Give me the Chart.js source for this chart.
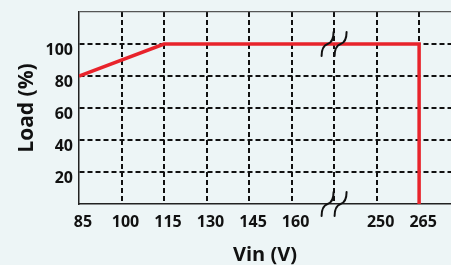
<!DOCTYPE html>
<html>
<head>
<meta charset="utf-8">
<script src="https://cdn.jsdelivr.net/npm/chart.js@4/dist/chart.umd.min.js"></script>
<style>
  body { margin: 0; background: #edf5f6; }
  #wrap { width: 451px; height: 265px; }
</style>
</head>
<body>
<div id="wrap"><canvas id="load_chart" width="451" height="265"></canvas></div>
<script>
// axe X : positions régulières, la coupure d'axe est le null
const vin_ticks = [85, 100, 115, 130, 145, 160, null, 250, 265];
const load_ticks = [0, 20, 40, 60, 80, 100, 120];
// courbe de déclassement
const vin_values = [85, 115, 265, 265];
const load_values = [80, 100, 100, 0];
// niveaux où l'on dessine les marques de coupure
const break_loads = [100, 0];

const break_pos = vin_ticks.indexOf(null);
const text_font = "'Open Sans', 'DejaVu Sans', sans-serif";

const data_points = [];
for (j = 0; j < vin_values.length; j++) {
  data_points.push({x: vin_ticks.indexOf(vin_values[j]), y: load_values[j]});
}

// marques de coupure "//" dessinées sur l'axe
const axis_break = {
  id: 'axis_break',
  afterDatasetsDraw(chart) {
    const ctx = chart.ctx;
    const cx0 = chart.scales.x.getPixelForValue(break_pos);
    ctx.save();
    ctx.strokeStyle = '#111';
    ctx.lineWidth = 2;
    ctx.lineCap = 'round';
    for (j = 0; j < break_loads.length; j++) {
      const cy = chart.scales.y.getPixelForValue(break_loads[j]);
      [-6.5, 6.5].forEach(function(dx) {
        const cx = cx0 + dx;
        ctx.beginPath();
        ctx.moveTo(cx - 6, cy + 12);
        ctx.bezierCurveTo(cx - 6, cy + 4, cx - 3, cy + 1, cx, cy);
        ctx.bezierCurveTo(cx + 3, cy - 1, cx + 6, cy - 4, cx + 6, cy - 12);
        ctx.stroke();
      });
    }
    ctx.restore();
  }
};

// pas de marge automatique pour les libellés aux extrémités
function no_label_padding(scale) {
  scale.paddingTop = 0;
  scale.paddingBottom = 0;
  scale.paddingLeft = 0;
  scale.paddingRight = 0;
}

const config_load_chart = {
  type: 'line',
  data: {
    datasets: [{
      label: 'Load',
      data: data_points,
      borderColor: '#e8232b',
      borderWidth: 3.5,
      borderJoinStyle: 'miter',
      pointRadius: 0,
      tension: 0,
    }]
  },
  options: {
    responsive: false,
    animation: false,
    devicePixelRatio: 1,
    layout: {padding: {top: 12, right: 0, left: 0, bottom: 0}},
    plugins: {legend: {display: false}, tooltip: {enabled: false}},
    scales: {
      x: {
        type: 'linear',
        min: 0,
        max: 8.75,
        afterBuildTicks: function(scale) {
          scale.ticks = vin_ticks.map(function(v, i) { return {value: i}; });
        },
        afterFit: function(scale) { scale.height = 61; no_label_padding(scale); },
        ticks: {
          callback: function(value) {
            const v = vin_ticks[value];
            return v == null ? '' : String(v);
          },
          font: {family: text_font, size: 16, weight: 'bold'},
          color: '#111',
          padding: 9,
          labelOffset: 4,
          maxRotation: 0,
          autoSkip: false,
        },
        grid: {
          drawTicks: false,
          lineWidth: 2,
          color: function(c) { return c.tick && c.tick.value === 0 ? 'rgba(0,0,0,0)' : '#111'; },
        },
        border: {display: true, color: '#222', width: 1.5, dash: [5, 3]},
        title: {
          display: true,
          text: 'Vin (V)',
          font: {family: text_font, size: 20, weight: 'bold', lineHeight: 1},
          color: '#111',
          padding: {top: 0, bottom: 0},
        }
      },
      y: {
        type: 'linear',
        min: 0,
        max: 120,
        afterBuildTicks: function(scale) {
          scale.ticks = load_ticks.map(function(v) { return {value: v}; });
        },
        afterFit: function(scale) { scale.width = 79; no_label_padding(scale); },
        ticks: {
          callback: function(value) {
            return (value === 0 || value === 120) ? '' : String(value);
          },
          font: {family: text_font, size: 16, weight: 'bold'},
          color: '#111',
          padding: 6,
          labelOffset: 6,
        },
        grid: {
          drawTicks: false,
          lineWidth: function(c) { return c.tick && c.tick.value === 120 ? 1.2 : 2; },
          color: function(c) {
            if (!c.tick) return '#111';
            if (c.tick.value === 0) return 'rgba(0,0,0,0)';
            if (c.tick.value === 120) return '#555';
            return '#111';
          },
        },
        border: {
          display: true, color: '#222', width: 1.5,
          dash: function(c) { return c.tick && c.tick.value === 120 ? [] : [5, 3]; },
        },
        title: {
          display: true,
          text: 'Load (%)',
          font: {family: text_font, size: 21, weight: 'bold', lineHeight: 1},
          color: '#111',
          padding: {top: 17, bottom: 0},
        }
      }
    }
  },
  plugins: [axis_break]
};

const load_chart = new Chart(
  document.getElementById('load_chart'),
  config_load_chart
);
</script>
</body>
</html>
